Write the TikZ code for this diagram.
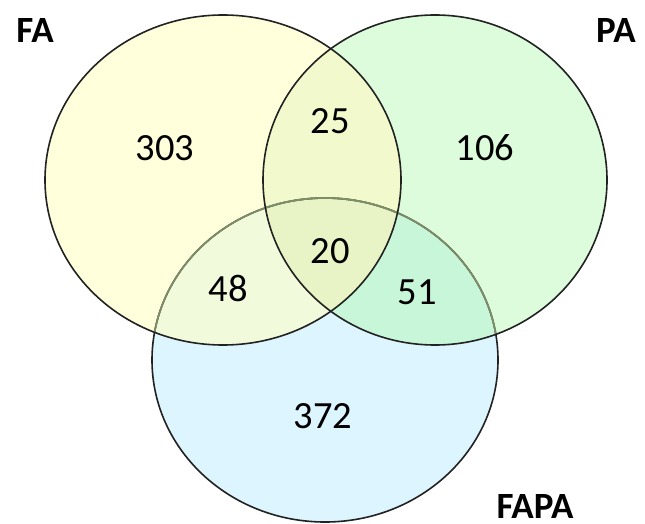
\documentclass[tikz,border=0pt]{standalone}
\usepackage{fontspec}
\setmainfont{Carlito}
\definecolor{faC}{HTML}{FFFFDC}
\definecolor{paC}{HTML}{DCFCDC}
\definecolor{fapaC}{HTML}{DDF5FE}
\definecolor{fapaX}{HTML}{F2F9CC}
\definecolor{fafapaX}{HTML}{F2FADC}
\definecolor{pafapaX}{HTML}{C8F6D8}
\definecolor{allX}{HTML}{E8F3C6}
\definecolor{edge}{HTML}{222222}
\definecolor{softedge}{HTML}{7E8E66}
\tikzset{
  num/.style={font=\fontsize{38.5}{40}\selectfont, text=black, inner sep=0pt},
  setlabel/.style={font=\fontsize{37}{39}\selectfont\bfseries, text=black, inner sep=0pt},
  ring/.style={draw=edge, line width=1.6pt},
}
\newcommand{\faPath}{(223,180) ellipse [x radius=178, y radius=165]}
\newcommand{\paPath}{(435,180) ellipse [x radius=172, y radius=165]}
\newcommand{\fapaPath}{(325,360) ellipse [x radius=173, y radius=162]}
\begin{document}
\begin{tikzpicture}[x=1pt,y=-1pt]
\useasboundingbox (0,0) rectangle (645,524);
\fill[white] (0,0) rectangle (645,524);
% base fills
\fill[faC] \faPath;
\fill[paC] \paPath;
\fill[fapaC] \fapaPath;
% pairwise overlaps
\begin{scope}
  \clip \faPath;
  \fill[fapaX] \paPath;
  \fill[fafapaX] \fapaPath;
\end{scope}
\begin{scope}
  \clip \paPath;
  \fill[pafapaX] \fapaPath;
\end{scope}
\begin{scope}
  \clip \faPath;
  \clip \paPath;
  \fill[allX] \fapaPath;
\end{scope}
% outlines
\draw[ring] \fapaPath;
\begin{scope}
  \clip \faPath;
  \draw[draw=softedge, line width=1.7pt] \fapaPath;
\end{scope}
\begin{scope}
  \clip \paPath;
  \draw[draw=softedge, line width=1.7pt] \fapaPath;
\end{scope}
\draw[ring] \faPath;
\draw[ring] \paPath;
% labels
\node[setlabel] (lFA) at (35,31) {FA};
\node[setlabel] (lPA) at (616,31) {PA};
\node[setlabel] (lFAPA) at (535,506) {FAPA};
% counts
\node[num] (n303) at (165,148) {303};
\node[num] (n25) at (330,121) {25};
\node[num] (n106) at (485,148) {106};
\node[num] (n20) at (330,251) {20};
\node[num] (n48) at (228,288) {48};
\node[num] (n51) at (417,292) {51};
\node[num] (n372) at (323,416) {372};
\end{tikzpicture}
\end{document}
